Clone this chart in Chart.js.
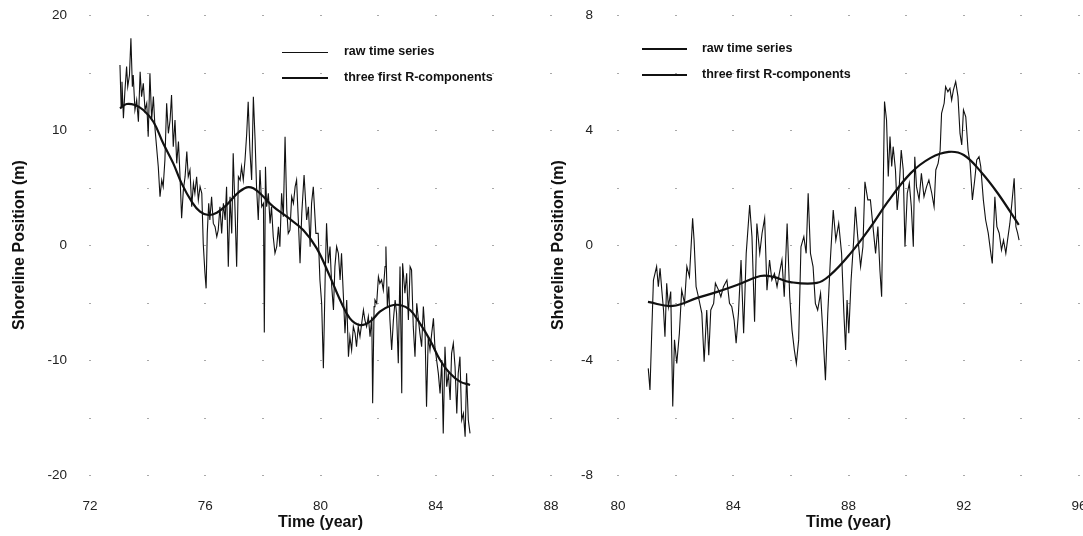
<!DOCTYPE html>
<html>
<head>
<meta charset="utf-8">
<script src="https://cdn.jsdelivr.net/npm/chart.js@4/dist/chart.umd.min.js"></script>
<style>
  html, body { margin: 0; padding: 0; background: #fff; overflow: hidden; }
  body { width: 1083px; height: 536px; position: relative; }
  canvas { position: absolute; top: 0; }
  #chartLeft { left: 0; }
  #chartRight { left: 528px; }
</style>
</head>
<body>
<canvas id="chartLeft" width="560" height="536"></canvas>
<canvas id="chartRight" width="560" height="536"></canvas>
<script>
// left panel: raw shoreline series and the three first R-components
const leftRawTime = [
  73.04, 73.08, 73.11, 73.16, 73.21, 73.27, 73.31, 73.37, 73.42, 73.47, 73.50, 73.56, 73.62, 73.68, 73.74, 73.79,
  73.85, 73.91, 73.97, 74.02, 74.08, 74.14, 74.20, 74.26, 74.31, 74.37, 74.43, 74.49, 74.54, 74.60, 74.66, 74.72,
  74.78, 74.83, 74.89, 74.95, 75.01, 75.07, 75.12, 75.18, 75.24, 75.30, 75.36, 75.41, 75.47, 75.53, 75.59, 75.64,
  75.70, 75.76, 75.82, 75.88, 75.93, 75.99, 76.03, 76.07, 76.12, 76.16, 76.22, 76.28, 76.34, 76.40, 76.45, 76.51,
  76.57, 76.63, 76.69, 76.74, 76.80, 76.86, 76.92, 76.97, 77.03, 77.09, 77.15, 77.21, 77.26, 77.32, 77.38, 77.44,
  77.49, 77.55, 77.61, 77.67, 77.73, 77.78, 77.84, 77.90, 77.96, 78.02, 78.05, 78.09, 78.13, 78.19, 78.25, 78.30,
  78.36, 78.42, 78.48, 78.54, 78.59, 78.65, 78.71, 78.77, 78.83, 78.88, 78.94, 79.00, 79.06, 79.12, 79.17, 79.23,
  79.29, 79.35, 79.43, 79.52, 79.58, 79.64, 79.69, 79.75, 79.84, 79.92, 79.98, 80.04, 80.10, 80.16, 80.21, 80.27,
  80.33, 80.39, 80.45, 80.50, 80.56, 80.62, 80.68, 80.73, 80.79, 80.85, 80.91, 80.97, 81.02, 81.08, 81.14, 81.20,
  81.25, 81.31, 81.37, 81.43, 81.49, 81.54, 81.60, 81.66, 81.72, 81.78, 81.81, 81.86, 81.89, 81.95, 82.01, 82.06,
  82.12, 82.18, 82.24, 82.27, 82.32, 82.37, 82.41, 82.47, 82.53, 82.59, 82.64, 82.70, 82.76, 82.82, 82.85, 82.93,
  82.99, 83.05, 83.11, 83.16, 83.22, 83.28, 83.34, 83.40, 83.45, 83.51, 83.57, 83.63, 83.68, 83.74, 83.80, 83.86,
  83.92, 83.97, 84.03, 84.09, 84.15, 84.21, 84.26, 84.32, 84.38, 84.44, 84.50, 84.55, 84.61, 84.67, 84.73, 84.78,
  84.84, 84.90, 84.96, 85.02, 85.07, 85.13, 85.19
];
const leftRawValue = [
  15.65, 12.03, 14.20, 11.02, 13.33, 15.51, 13.77, 14.78, 17.97, 13.77, 14.78, 11.74, 12.61, 10.72, 15.07, 12.90,
  14.06, 11.74, 12.32, 9.42, 14.93, 10.87, 12.90, 10.00, 8.55, 6.81, 4.20, 5.65, 5.07, 7.39, 12.32, 9.71,
  10.87, 13.04, 8.55, 10.87, 7.10, 8.99, 6.23, 2.32, 4.78, 5.94, 8.12, 5.94, 6.52, 3.33, 5.36, 4.49,
  5.94, 3.91, 5.07, 4.49, 0.14, -2.46, -3.77, 1.01, 3.62, 2.17, 4.20, 1.88, 1.59, 0.72, 1.30, 3.33,
  1.01, 3.62, 2.17, 5.07, -1.88, 4.20, 1.01, 7.97, 3.33, -1.88, 5.94, 5.65, 6.81, 5.65, 7.39, 9.71,
  12.46, 8.26, 5.65, 12.90, 9.13, 5.07, 2.17, 6.52, 3.33, 3.62, -7.60, 6.81, 3.33, 4.49, 1.88, 3.33,
  0.72, -0.72, -0.14, 1.59, -0.14, 4.49, 2.46, 9.42, 3.04, 1.01, 1.30, 4.20, 3.62, 5.07, 5.65, 2.17,
  -1.59, 2.75, 6.09, 2.17, 3.33, -0.14, 3.62, 5.07, 1.01, 1.01, -3.04, -5.07, -10.72, -3.04, 1.88, -1.59,
  -0.14, -3.62, -5.65, -1.88, -0.14, -0.72, -3.04, -0.72, -4.20, -7.68, -4.78, -9.71, -7.97, -9.13, -7.10, -7.68,
  -8.84, -7.10, -7.97, -6.81, -5.65, -6.52, -7.10, -6.23, -7.97, -6.23, -13.77, -5.36, -4.78, -5.07, -2.75, -3.33,
  -3.04, -3.91, -1.88, -0.14, -5.36, -3.62, -6.52, -9.13, -6.52, -4.78, -5.94, -10.29, -1.88, -12.90, -1.59, -4.20,
  -2.46, -6.52, -1.88, -2.17, -7.10, -9.71, -5.07, -6.52, -7.68, -8.84, -5.36, -7.68, -14.06, -7.97, -9.13, -7.68,
  -6.38, -8.84, -10.00, -11.16, -12.90, -10.00, -16.38, -8.84, -12.32, -11.16, -13.48, -9.42, -8.55, -10.58, -14.64, -11.16,
  -9.71, -15.22, -14.64, -16.67, -11.16, -15.22, -16.38
];
const leftTrendTime = [
  73.04, 73.27, 73.56, 73.85, 74.20, 74.54, 74.89, 75.18, 75.53, 75.82, 76.11, 76.40, 76.74, 77.09, 77.44, 77.67,
  77.96, 78.36, 78.83, 79.40, 79.87, 80.33, 80.68, 81.02, 81.37, 81.72, 82.06, 82.41, 82.76, 83.11, 83.45, 83.80,
  84.15, 84.49, 84.84, 85.19
];
const leftTrendValue = [
  11.88, 12.26, 12.17, 11.74, 10.72, 8.84, 7.10, 5.36, 3.77, 2.90, 2.61, 2.81, 3.48, 4.43, 5.01, 4.93,
  4.35, 3.33, 2.46, 1.30, -0.29, -2.75, -4.78, -6.38, -6.96, -6.67, -5.80, -5.30, -5.22, -5.65, -6.81, -8.26,
  -10.00, -11.16, -11.88, -12.17
];

// right panel
const rightRawTime = [
  81.05, 81.11, 81.17, 81.23, 81.34, 81.40, 81.46, 81.52, 81.58, 81.63, 81.69, 81.75, 81.83, 81.90, 81.96, 82.04,
  82.13, 82.21, 82.31, 82.39, 82.48, 82.59, 82.64, 82.71, 82.79, 82.91, 82.99, 83.08, 83.15, 83.22, 83.32, 83.38,
  83.49, 83.57, 83.66, 83.78, 83.87, 83.95, 84.03, 84.10, 84.18, 84.27, 84.36, 84.45, 84.57, 84.65, 84.74, 84.82,
  84.92, 85.00, 85.09, 85.17, 85.26, 85.34, 85.43, 85.52, 85.60, 85.69, 85.77, 85.87, 85.96, 86.04, 86.12, 86.19,
  86.27, 86.35, 86.45, 86.53, 86.60, 86.68, 86.77, 86.85, 86.93, 87.03, 87.12, 87.20, 87.28, 87.37, 87.47, 87.56,
  87.66, 87.76, 87.84, 87.90, 87.95, 88.01, 88.09, 88.18, 88.24, 88.32, 88.42, 88.50, 88.57, 88.67, 88.76, 88.85,
  88.94, 89.02, 89.09, 89.15, 89.19, 89.25, 89.32, 89.38, 89.44, 89.50, 89.55, 89.63, 89.69, 89.76, 89.83, 89.90,
  89.96, 90.04, 90.11, 90.18, 90.25, 90.30, 90.36, 90.45, 90.53, 90.62, 90.71, 90.79, 90.89, 90.97, 91.03, 91.11,
  91.18, 91.23, 91.32, 91.37, 91.45, 91.52, 91.58, 91.64, 91.72, 91.80, 91.87, 91.93, 91.99, 92.07, 92.15, 92.22,
  92.30, 92.38, 92.45, 92.53, 92.59, 92.68, 92.76, 92.85, 92.94, 92.99, 93.08, 93.15, 93.23, 93.31, 93.38, 93.46,
  93.52, 93.60, 93.67, 93.75, 93.81, 93.87, 93.92
];
const rightRawValue = [
  -4.29, -5.04, -3.07, -1.22, -0.75, -1.45, -0.81, -1.57, -2.26, -3.19, -1.33, -2.15, -1.62, -5.62, -3.30, -4.12,
  -3.07, -1.57, -2.03, -0.75, -1.10, 0.93, 0.17, -1.45, -1.80, -2.38, -4.06, -2.26, -3.83, -2.26, -2.03, -1.33,
  -1.57, -1.80, -1.45, -1.22, -2.03, -2.15, -2.61, -3.42, -2.38, -0.52, -3.07, -0.29, 1.39, 0.29, -2.67, 0.75,
  -0.29, 0.41, 0.93, -1.57, -0.52, -1.22, -0.99, -1.45, -0.99, -0.52, -1.80, 0.75, -1.80, -2.96, -3.65, -4.12,
  -3.30, -0.06, 0.29, -0.29, 1.80, -0.29, -0.75, -2.03, -2.26, -1.68, -3.19, -4.70, -2.38, -0.52, 1.22, 0.17,
  0.75, -0.29, -2.38, -3.65, -1.91, -3.07, -1.22, 0.17, 1.33, 0.29, -0.75, -0.06, 2.20, 1.57, 1.57, 0.64,
  -0.29, 0.64, -0.87, -1.80, 0.99, 4.99, 4.35, 2.38, 3.77, 2.73, 3.42, 2.61, 1.22, 2.03, 3.30, 2.61,
  -0.06, 1.80, 2.15, 1.33, -0.06, 3.07, 2.03, 1.57, 2.49, 1.68, 2.03, 2.26, 1.80, 1.33, 2.61, 2.84,
  3.30, 4.58, 4.93, 5.51, 5.33, 5.45, 5.04, 5.39, 5.68, 5.16, 3.88, 3.48, 4.70, 4.46, 3.30, 2.84,
  1.57, 2.26, 2.96, 3.07, 2.73, 1.57, 0.87, 0.41, -0.29, -0.64, 1.68, 0.64, 0.41, -0.17, 0.17, -0.29,
  0.17, 0.75, 1.45, 2.32, 0.64, 0.41, 0.17
];
const rightTrendTime = [
  81.04, 81.90, 82.75, 83.44, 84.13, 84.94, 85.40, 85.98, 86.90, 87.37, 88.07, 88.77, 89.36, 90.16, 90.85, 91.48,
  92.00, 92.60, 93.18, 93.91
];
const rightTrendValue = [
  -1.98, -2.12, -1.84, -1.63, -1.39, -1.08, -1.11, -1.29, -1.32, -1.04, -0.29, 0.63, 1.50, 2.50, 3.03, 3.24,
  3.13, 2.54, 1.80, 0.70
];

const seriesLabels = ['raw time series', 'three first R-components'];
const xTitle = 'Time (year)';
const yTitle = 'Shoreline Position (m)';

const FONT = "'Liberation Sans', Arial, Helvetica, sans-serif";
const INK = '#111';

function toPoints(xs, ys) {
  return xs.map((x, i) => ({ x: x, y: ys[i] }));
}

// small grey dots where the grid lines would cross
const gridDots = {
  id: 'gridDots',
  beforeDatasetsDraw(chart) {
    const { ctx, scales } = chart;
    ctx.save();
    ctx.fillStyle = '#a8a8a8';
    scales.x.ticks.forEach(tx => {
      const px = Math.round(scales.x.getPixelForValue(tx.value));
      scales.y.ticks.forEach(ty => {
        const py = Math.round(scales.y.getPixelForValue(ty.value));
        ctx.fillRect(px - 1, py, 2, 1);
      });
    });
    ctx.restore();
  }
};

// legend drawn inside the plot, as in the figure
const insideLegend = {
  id: 'insideLegend',
  afterDatasetsDraw(chart, args, opts) {
    const { ctx, chartArea } = chart;
    ctx.save();
    ctx.font = 'bold 12.5px ' + FONT;
    ctx.textBaseline = 'middle';
    chart.data.datasets.forEach((ds, i) => {
      const x = chartArea.left + opts.left;
      const y = Math.round(chartArea.top + opts.top + i * opts.gap);
      ctx.strokeStyle = ds.borderColor;
      ctx.lineWidth = opts.lineWidths[i];
      ctx.beginPath();
      ctx.moveTo(x, y + (opts.lineWidths[i] % 2 ? 0.5 : 0));
      ctx.lineTo(x + opts.lineLength, y + (opts.lineWidths[i] % 2 ? 0.5 : 0));
      ctx.stroke();
      ctx.fillStyle = INK;
      ctx.fillText(ds.label, x + opts.lineLength + opts.textGap, y);
    });
    ctx.restore();
  }
};

function makeChart(id, p) {
  return new Chart(document.getElementById(id), {
    type: 'line',
    data: {
      datasets: [
        {
          label: seriesLabels[0],
          data: toPoints(p.rawTime, p.rawValue),
          borderColor: INK,
          borderWidth: 1.1,
          pointRadius: 0,
          tension: 0,
        },
        {
          label: seriesLabels[1],
          data: toPoints(p.trendTime, p.trendValue),
          borderColor: INK,
          borderWidth: 2.2,
          pointRadius: 0,
          tension: 0.4,
        },
      ],
    },
    options: {
      responsive: false,
      animation: false,
      layout: { padding: { top: 15, left: 0, right: 9, bottom: 0 } },
      plugins: {
        legend: { display: false },
        tooltip: { enabled: false },
        insideLegend: p.legend,
      },
      scales: {
        x: {
          type: 'linear',
          min: p.xMin,
          max: p.xMax,
          grid: { display: false, drawTicks: true, tickLength: 23 },
          border: { display: false },
          afterFit: s => { s.height = 61; },
          ticks: {
            stepSize: 2,
            autoSkip: false,
            maxRotation: 0,
            padding: 0,
            color: '#222',
            font: { family: FONT, size: 13.5 },
            callback: v => (v % 4 === 0 ? String(v) : ''),
          },
          title: {
            display: true,
            text: xTitle,
            color: INK,
            font: { family: FONT, size: 16, weight: 'bold' },
            padding: { top: 0, bottom: 4 },
          },
        },
        y: {
          type: 'linear',
          min: p.yMin,
          max: p.yMax,
          grid: { display: false, drawTicks: true, tickLength: p.yTickPad },
          border: { display: false },
          afterFit: s => { s.width = 90; },
          ticks: {
            stepSize: p.yStep,
            autoSkip: false,
            padding: 0,
            color: '#222',
            font: { family: FONT, size: 13.5 },
            callback: v => (v % p.yLabelEvery === 0 ? String(v) : ''),
          },
          title: {
            display: true,
            text: yTitle,
            color: INK,
            font: { family: FONT, size: 16, weight: 'bold' },
            padding: { top: p.yTitlePad, bottom: 0 },
          },
        },
      },
    },
    plugins: [gridDots, insideLegend],
  });
}

makeChart('chartLeft', {
  rawTime: leftRawTime, rawValue: leftRawValue,
  trendTime: leftTrendTime, trendValue: leftTrendValue,
  xMin: 72, xMax: 88, yMin: -20, yMax: 20, yStep: 5, yLabelEvery: 10,
  yTickPad: 23, yTitlePad: 9.5,
  legend: { left: 192, top: 37, gap: 26, lineLength: 46, textGap: 16, lineWidths: [1, 2] },
});

makeChart('chartRight', {
  rawTime: rightRawTime, rawValue: rightRawValue,
  trendTime: rightTrendTime, trendValue: rightTrendValue,
  xMin: 80, xMax: 96, yMin: -8, yMax: 8, yStep: 2, yLabelEvery: 4,
  yTickPad: 25, yTitlePad: 20.5,
  legend: { left: 24, top: 34, gap: 26, lineLength: 45, textGap: 15, lineWidths: [2, 2] },
});
</script>
</body>
</html>
